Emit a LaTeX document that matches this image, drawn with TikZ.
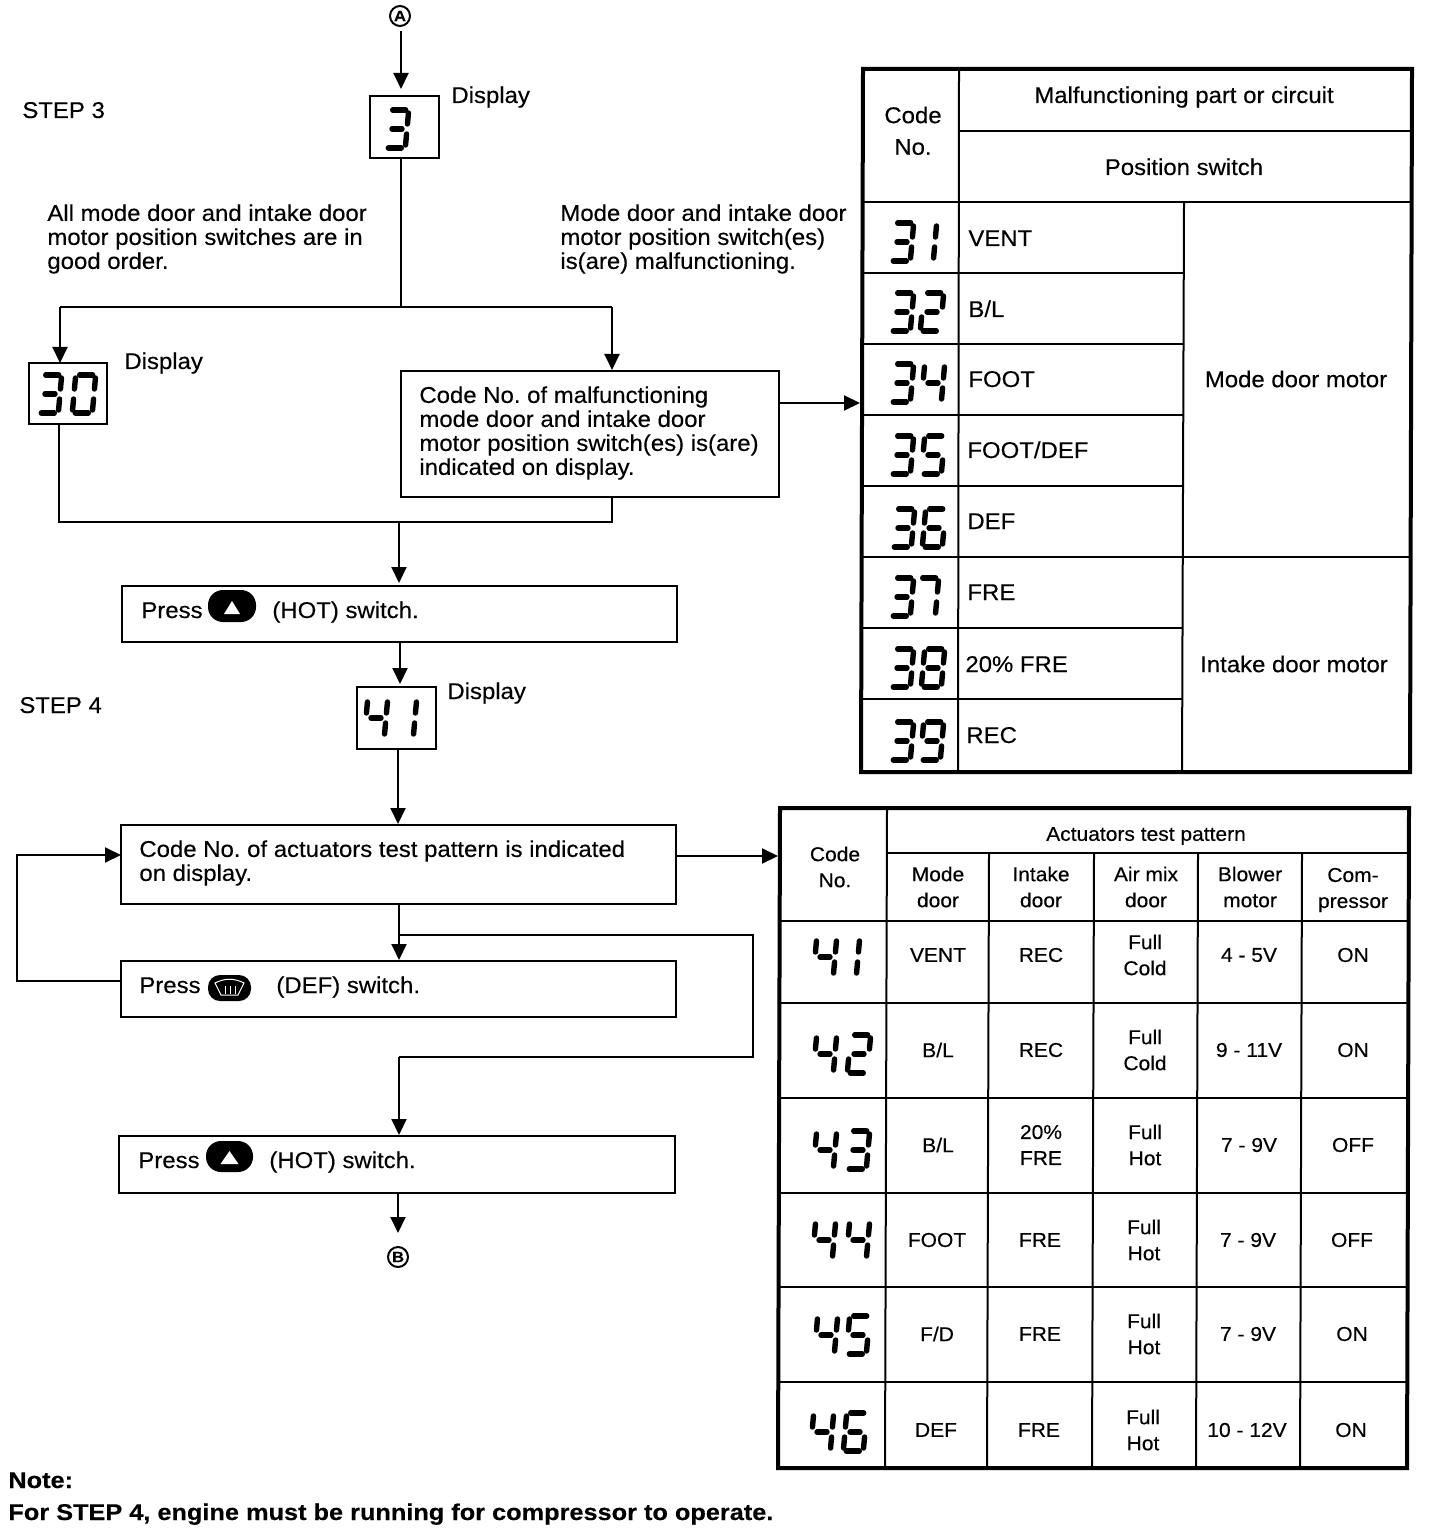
\documentclass[tikz,border=0pt]{standalone}
\usepackage{fontspec}
\setmainfont[FakeStretch=1.05,FakeBold=0.3,BoldFeatures={FakeStretch=1.11}]{Liberation Sans}
\usetikzlibrary{arrows.meta,calc}
% seven-segment digits (local units: pixels, centre at origin)
\newcommand\SA{\draw[seven](-6,-19)--(7,-19);}
\newcommand\SB{\draw[seven](10,-16)--(10,-5);}
\newcommand\SC{\draw[seven](10,5)--(10,16);}
\newcommand\SD{\draw[seven](-7,19)--(6,19);}
\newcommand\SE{\draw[seven](-10,5)--(-10,16);}
\newcommand\SF{\draw[seven](-10,-16)--(-10,-5);}
\newcommand\SG{\draw[seven](-5,0)--(5,0);}
\newcommand\dzero{\SA\SB\SC\SD\SE\SF}
\newcommand\done{\SB\SC}
\newcommand\dtwo{\SA\SB\SG\SE\SD}
\newcommand\dthree{\SA\SB\SG\SC\SD}
\newcommand\dfour{\SF\SG\SB\SC}
\newcommand\dfive{\SA\SF\SG\SC\SD}
\newcommand\dsix{\SA\SF\SG\SC\SD\SE}
\newcommand\dseven{\SA\SB\SC}
\newcommand\deight{\SA\SB\SC\SD\SE\SF\SG}
\newcommand\dnine{\SA\SB\SC\SD\SF\SG}
\newcommand\dig[3]{\begin{scope}[shift={(#1,#2)},xslant=.09]\csname d#3\endcsname\end{scope}}
\tikzset{
  seven/.style={line width=2.7pt,line cap=round},
  conn/.style={line width=1pt},
  arr/.style={line width=1pt,-{Triangle[length=8pt,width=7.5pt]}},
  bx/.style 2 args={draw,line width=1pt,inner sep=0pt,outer sep=0pt,minimum width=#1*0.5pt,minimum height=#2*0.5pt},
  circ/.style={draw,circle,line width=1pt,minimum size=10pt,inner sep=0pt,font=\fontsize{7.5}{8}\selectfont\bfseries},
  big/.style={font=\fontsize{11.4}{12}\selectfont,inner sep=0pt},
  sm/.style={font=\fontsize{10}{13}\selectfont,inner sep=0pt,align=center},
  lft/.style={big,align=left,anchor=west},
  bs/.style={big,anchor=base west},
  btn/.style={fill=black,rounded corners=7.5pt},
  thin/.style={line width=1pt},
  thick2/.style={line width=2pt},
}
\newcommand\rowb[7]{%
  \node[sm] (cm#1) at (938+#7,#1) {#2};
  \node[sm] (ci#1) at (1041+#7,#1) {#3};
  \node[sm] (ca#1) at (1145+#7,#1) {#4};
  \node[sm] (cb#1) at (1249+#7,#1) {#5};
  \node[sm] (cc#1) at (1353+#7,#1) {#6};
}
\frenchspacing
\begin{document}
\begin{tikzpicture}[x=0.5pt,y=-0.5pt]
\useasboundingbox (0,0) rectangle (1440,1534);
\fill[white] (0,0) rectangle (1440,1534);
% boxes
\node[circ] (A) at (400,16) {A};
\node[bx={69}{62}] (d3) at (404.5,127) {};
\node[bx={78}{61}] (d30) at (68,393.5) {};
\node[bx={378}{126}] (code) at (590,434) {};
\node[bx={555}{56}] (hot1) at (399.5,614) {};
\node[bx={79}{62}] (d41) at (396.5,718) {};
\node[bx={555}{79}] (acts) at (398.5,864.5) {};
\node[bx={555}{56}] (def) at (398.5,989) {};
\node[bx={556}{57}] (hot2) at (397,1164.5) {};
\node[circ] (B) at (398,1257) {B};
% free labels
\node[bs] (disp1) at (451,103) {Display};
\node[bs] (disp2) at (124,369) {Display};
\node[bs] (disp3) at (447,699) {Display};
\node[bs] (st3) at (22,118) {STEP 3};
\node[bs] (st4) at (19,713) {STEP 4};
\node[lft] (t1) at (47,239) {All mode door and intake door\\motor position switches are in\\good order.};
\node[lft] (t2) at (560,239) {Mode door and intake door\\motor position switch(es)\\is(are) malfunctioning.};
\node[lft] (t3) at (419,433) {Code No. of malfunctioning\\mode door and intake door\\motor position switch(es) is(are)\\indicated on display.};
\node[lft] (t4) at (139,863) {Code No. of actuators test pattern is indicated\\on display.};
\node[bs] (p1) at (141,618) {Press};
\node[bs] (h1) at (272,618) {(HOT) switch.};
\node[bs] (p2) at (139,993) {Press};
\node[bs] (h2) at (276,993) {(DEF) switch.};
\node[bs] (p3) at (138,1168) {Press};
\node[bs] (h3) at (269,1168) {(HOT) switch.};
\node[font=\fontsize{11.4}{12}\selectfont\bfseries,inner sep=0pt,anchor=base west] (n1) at (8,1488) {Note:};
\node[font=\fontsize{11.4}{12}\selectfont\bfseries,inner sep=0pt,anchor=base west] (n2) at (8,1520) {For STEP 4, engine must be running for compressor to operate.};
% buttons
\fill[btn] (208,590) rectangle (256,622);
\fill[white] (232,601) -- (240,614) -- (224,614) -- cycle;
\fill[btn] (206,1141) rectangle (253,1172);
\fill[white] (229.5,1151) -- (238.5,1164) -- (220.5,1164) -- cycle;
\fill[black,rounded corners=6pt] (208,975) rectangle (251,1001);
\draw[white,line width=.5pt] (215,983) .. controls (225,978) and (234,978) .. (244,983) -- (238,995) -- (221,995) -- cycle;
\draw[white,line width=.5pt] (225,986)--(225,994) (230,986)--(230,994) (235,986)--(235,994);
% connectors
\coordinate (j1) at (401,307);
\coordinate (l1) at (60,307);
\coordinate (r1) at (612,307);
\coordinate (j2) at (399,522);
\coordinate (l2) at (59,522);
\coordinate (r2) at (612,522);
\coordinate (fbr) at (17,981);
\coordinate (fbt) at (17,855);
\coordinate (b1) at (399,935);
\coordinate (b2) at (753,935);
\coordinate (b3) at (753,1057);
\coordinate (b4) at (399,1057);
\coordinate (tab1) at (860,403);
\coordinate (tab2) at (778,856);
\draw[arr] (401,31) -- (401,89);
\draw[conn] (401,158) -- (j1);
\draw[conn] (l1) -- (r1);
\draw[arr] (l1) -- (60,363);
\draw[arr] (r1) -- (612,370);
\draw[arr] (779,403) -- (tab1);
\draw[conn] (59,424) -- (l2) -- (r2) -- (612,497);
\draw[arr] (j2) -- (399,583);
\draw[arr] (400,642) -- (400,684);
\draw[arr] (398,749) -- (398,824);
\draw[arr] (676,856) -- (tab2);
\draw[arr] (121,981) -- (fbr) -- (fbt) -- (121,855);
\draw[arr] (399,904) -- (399,960);
\draw[conn] (b1) -- (b2) -- (b3) -- (b4);
\draw[arr] (b4) -- (399,1135);
\draw[arr] (398,1193) -- (398,1233);
% display digits
\dig{397}{129}{three}
\dig{50}{394}{three}\dig{84}{394}{zero}
\dig{376}{718}{four}\dig{405}{718}{one}
% table 1
\draw[thick2] (863,69) -- (1412,69) -- (1410,772) -- (861,772) -- cycle;
\draw[thin] (959,69) -- (958,772);
\draw[thin] (959,131) -- (1410,131);
\draw[thin] (862,202) -- (1411,202);
\draw[thin] (1184,202) -- (1182,772);
\foreach \y in {273,344,415,486,628,699} \draw[thin] (862,\y) -- (1183,\y);
\draw[thin] (862,557) -- (1411,557);
\node[big] (c1) at (913,115) {Code};
\node[big] (c2) at (913,147) {No.};
\node[big,anchor=base] (mp) at (1184,103) {Malfunctioning part or circuit};
\node[big,anchor=base] (ps) at (1184,175) {Position switch};
\node[big] (md) at (1296,379) {Mode door motor};
\node[big] (id) at (1294,664) {Intake door motor};
\node[bs] (v1) at (968,246) {VENT};
\node[bs] (v2) at (968,317) {B/L};
\node[bs] (v3) at (968,387) {FOOT};
\node[bs] (v4) at (967,458) {FOOT/DEF};
\node[bs] (v5) at (967,529) {DEF};
\node[bs] (v6) at (967,600) {FRE};
\node[bs] (v7) at (965,672) {20\% FRE};
\node[bs] (v8) at (966,743) {REC};
\dig{902}{242}{three}\dig{925}{242}{one}
\dig{902}{312}{three}\dig{932}{312}{two}
\dig{902}{383}{three}\dig{933}{383}{four}
\dig{902}{455}{three}\dig{933}{455}{five}
\dig{903}{528}{three}\dig{934}{528}{six}
\dig{902}{597}{three}\dig{927}{597}{seven}
\dig{902}{668}{three}\dig{933}{668}{eight}
\dig{902}{741}{three}\dig{932}{741}{nine}
% table 2
\draw[thick2] (780,808) -- (1409,808) -- (1407,1468) -- (778,1468) -- cycle;
\draw[thin] (887,808) -- (885,1468);
\draw[thin] (887,853) -- (1408,853);
\draw[thin] (779,921) -- (1408,921);
\foreach \y in {1003,1098,1193,1287,1382} \draw[thin] (779,\y) -- (1408,\y);
\draw[thin] (989,853) -- (987,1468);
\draw[thin] (1094,853) -- (1092,1468);
\draw[thin] (1198,853) -- (1196,1468);
\draw[thin] (1302,853) -- (1300,1468);
\node[sm] (cn) at (835,867) {Code\\No.};
\node[sm] (atp) at (1146,836) {Actuators test pattern};
\node[sm] (hm) at (938,887) {Mode\\door};
\node[sm] (hi) at (1041,887) {Intake\\door};
\node[sm] (ha) at (1146,887) {Air mix\\door};
\node[sm] (hb) at (1250,887) {Blower\\motor};
\node[sm] (hc) at (1353,890) {Com-\\pressor};
\rowb{955}{VENT}{REC}{Full\\Cold}{4 - 5V}{ON}{0}
\rowb{1050}{B/L}{REC}{Full\\Cold}{9 - 11V}{ON}{0}
\rowb{1145}{B/L}{20\%\\FRE}{Full\\Hot}{7 - 9V}{OFF}{0}
\rowb{1240}{FOOT}{FRE}{Full\\Hot}{7 - 9V}{OFF}{-1}
\rowb{1334}{F/D}{FRE}{Full\\Hot}{7 - 9V}{ON}{-1}
\rowb{1430}{DEF}{FRE}{Full\\Hot}{10 - 12V}{ON}{-2}
\dig{825}{957}{four}\dig{848}{957}{one}
\dig{825}{1054}{four}\dig{859}{1054}{two}
\dig{825}{1150}{four}\dig{858}{1150}{three}
\dig{824}{1240}{four}\dig{858}{1240}{four}
\dig{826}{1335}{four}\dig{858}{1335}{five}
\dig{822}{1432}{four}\dig{855}{1432}{six}
\end{tikzpicture}
\end{document}
